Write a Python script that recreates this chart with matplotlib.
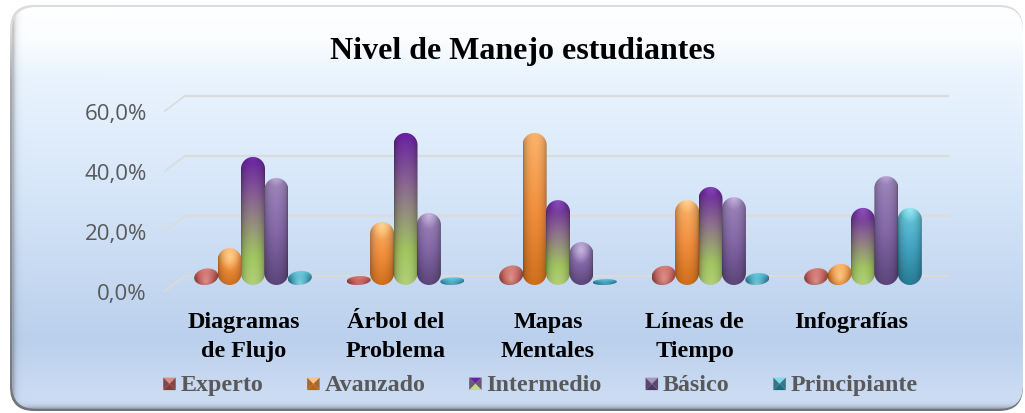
import numpy as np
import matplotlib
matplotlib.use('Agg')
import matplotlib.pyplot as plt
from matplotlib.patches import FancyBboxPatch, PathPatch, Polygon, Patch
from matplotlib.path import Path
from matplotlib.colors import to_rgb
from matplotlib.legend_handler import HandlerBase
from matplotlib.transforms import ScaledTranslation

title = 'Nivel de Manejo estudiantes'
categories = ['Diagramas\nde Flujo', 'Árbol del\nProblema', 'Mapas\nMentales', 'Líneas de\nTiempo', 'Infografías']
series_names = ['Experto', 'Avanzado', 'Intermedio', 'Básico', 'Principiante']
experto = [5.5, 3.0, 6.5, 6.4, 5.6]
avanzado = [12.3, 21.0, 50.7, 28.3, 7.0]
intermedio = [42.7, 50.7, 28.3, 32.7, 25.7]
basico = [35.7, 24.0, 14.3, 29.3, 36.3]
principiante = [4.7, 2.6, 2.0, 4.0, 25.7]
series_values = [experto, avanzado, intermedio, basico, principiante]
y_ticks = [0, 20, 40, 60]
y_labels = ['0,0%', '20,0%', '40,0%', '60,0%']

# colours bottom -> top for each series
gradients = [
    ['#8c3836', '#c65c58', '#dc8c86'],
    ['#c2620f', '#f2903e', '#ffc27e'],
    ['#c0d890', '#a2c660', '#8c6c90', '#6a22a2'],
    ['#4c3868', '#8468a8', '#a995c2'],
    ['#1c6c80', '#43a6c4', '#7cdce8'],
]
glow = ['#e8a8a0', '#ffe0a0', '#9a60c0', '#d8c8f0', '#a8f4f8']

W, H = 1025, 414
PX_X = 152.5     # pixels per category
PX_Y = 3.0       # pixels per percent
BAR_W = 24 / PX_X
STEP = 23.4 / PX_X
BASE = 6 / PX_Y  # bars sit this far behind the front wall
DEPTH = 15.3 / PX_Y

fig = plt.figure(figsize=(W / 100, H / 100), dpi=100, facecolor='white')

# background panel: grey frame, then the blue gradient with a soft inner shadow
bg = fig.add_axes([0, 0, 1, 1])
bg.axis('off')
ys = np.arange(H)
xs = np.arange(W)
frame_c = np.array([to_rgb(c) for c in ['#dcdcdc', '#dcdcdc', '#a9abae', '#70747a']])
frame_grad = np.stack([np.interp(ys, [0, 30, 80, 412], frame_c[:, i]) for i in range(3)], axis=1)[:, None, :]
frame_im = bg.imshow(frame_grad, extent=(0, W, H, 0), aspect='auto', zorder=1)
frame = FancyBboxPatch((10, 6), 1013, 406, boxstyle='round,pad=0,rounding_size=24', fc='none', ec='none')
bg.add_patch(frame)
frame_im.set_clip_path(frame)

stops_y = [0, 40, 75, 200, 340, 410]
stops_c = np.array([to_rgb(c) for c in ['#ffffff', '#fbfdff', '#eaf4fe', '#d5e5f8', '#bbd0ec', '#d0dff5']])
grad = np.stack([np.interp(ys, stops_y, stops_c[:, i]) for i in range(3)], axis=1)[:, None, :]
grad = np.repeat(grad, W, axis=1)
shade = (1 - 0.22 * np.exp(-np.clip(xs - 13, 0, None) / 2.5))[None, :] \
    * (1 - 0.30 * np.exp(-np.clip(409 - ys, 0, None) / 2.5))[:, None]
im = bg.imshow(grad * shade[:, :, None], extent=(0, W, H, 0), aspect='auto', zorder=2)
panel = FancyBboxPatch((12, 8), 1011, 402, boxstyle='round,pad=0,rounding_size=24', fc='none', ec='none')
bg.add_patch(panel)
im.set_clip_path(panel)
bg.set_xlim(0, W)
bg.set_ylim(H, 0)
bg.text(523, 52, title, family='Liberation Serif', weight='bold', fontsize=23,
        color='black', ha='center', va='center', zorder=3)

# chart axes: 0 % at pixel 292, 60 % at pixel 112
ax = fig.add_axes([165 / W, 1 - 292 / H, 783 / W, 180 / H])
ax.patch.set_alpha(0)
ax.set_xlim((165 - 253) / PX_X, (948 - 253) / PX_X)
ax.set_ylim(0, 60)
for side in ax.spines.values():
    side.set_visible(False)


def bar_path(x0, x1, h):
    # capsule; very short bars become slightly tilted ellipses
    xc = (x0 + x1) / 2
    rx = (x1 - x0) / 2
    ry = min(12 / PX_Y, h / 2)
    t = np.linspace(0, np.pi, 30)
    top = np.column_stack([xc + rx * np.cos(t), BASE + h - ry + ry * np.sin(t)])
    bottom = np.column_stack([xc - rx * np.cos(t), BASE + ry - ry * np.sin(t)])
    pts = np.vstack([top, bottom, top[:1]])
    if h < 24 / PX_Y:
        pts[:, 1] += (pts[:, 0] - xc) / rx * h * 0.07
    return Path(pts, closed=True)


def bar_image(k, h):
    # vertical colour ramp, round shading across, glow in the cap
    h_px = max(int(h * PX_Y * 2), 4)
    nx = 48
    u = np.linspace(-1, 1, nx)
    v = np.linspace(0, 1, h_px)
    cols = np.array([to_rgb(c) for c in gradients[k]])
    pos = np.linspace(0, 1, len(cols))
    if k == 2:
        pos = np.array([0, 0.3, 0.6, 0.85])
    ramp = np.stack([np.interp(v, pos, cols[:, i]) for i in range(3)], axis=1)
    img = ramp[:, None, :] * (0.62 + 0.38 * np.sqrt(np.clip(1 - u ** 2, 0, 1)))[None, :, None]
    # cap highlight
    yy = (v * h * PX_Y - (h * PX_Y - 12))[:, None]
    dist = np.sqrt((u[None, :] * 12) ** 2 + yy ** 2)
    a = np.clip(1 - dist / 10, 0, 1)[:, :, None] * 0.75
    img = img * (1 - a) + np.array(to_rgb(glow[k])) * a
    return img


def draw_bars():
    for k, vals in enumerate(series_values):
        for i, v in enumerate(vals):
            xc = i + (k - 2) * STEP
            x0, x1 = xc - BAR_W / 2, xc + BAR_W / 2
            patch = PathPatch(bar_path(x0, x1, v), fc='none', ec='none', zorder=3 + k)
            ax.add_patch(patch)
            pad = v * 0.2
            img = bar_image(k, v)
            bar = ax.imshow(img, extent=(x0, x1, BASE - pad, BASE + v + pad), origin='lower',
                            aspect='auto', zorder=3 + k, interpolation='bilinear')
            bar.set_clip_path(patch)


# back wall grid and its slanted side
for t in y_ticks:
    ax.plot([(165 + 20 - 253) / PX_X, ax.get_xlim()[1]], [t + DEPTH, t + DEPTH],
            color='#dbdbdb', lw=1.6, zorder=1, clip_on=False)
    ax.plot([ax.get_xlim()[0], (165 + 20 - 253) / PX_X], [t, t + DEPTH],
            color='#dbdbdb', lw=1.2, zorder=1, clip_on=False)
draw_bars()
ax.set_xlim((165 - 253) / PX_X, (948 - 253) / PX_X)
ax.set_ylim(0, 60)

ax.set_yticks(y_ticks)
ax.set_yticklabels(y_labels, family='Open Sans', fontsize=16, color='#595959')
ax.set_xticks(range(len(categories)))
ax.set_xticklabels(categories, family='Liberation Serif', weight='bold', fontsize=17.4,
                   color='black', linespacing=1.5)
ax.tick_params(axis='both', length=0)
ax.tick_params(axis='y', pad=13)
ax.tick_params(axis='x', pad=14.5)
label_shift = [-9, -10, -10, -16, -12]
for lab, dx in zip(ax.get_xticklabels(), label_shift):
    lab.set_transform(lab.get_transform() + ScaledTranslation(dx / 100, 0, fig.dpi_scale_trans))


class BevelHandler(HandlerBase):
    # small bevelled square like the legend keys of the original
    def create_artists(self, legend, handle, xd, yd, w, h, fs, trans):
        light, mid, dark = handle.colors
        s = min(w, h * 1.2)
        y0 = -yd - 1
        x0 = -xd
        c = (x0 + s / 2, y0 + s / 2)
        a, b, d, e = (x0, y0), (x0 + s, y0), (x0 + s, y0 + s), (x0, y0 + s)
        out = []
        for pts, col in [((e, d, c), light), ((a, e, c), mid), ((b, d, c), mid), ((a, b, c), dark)]:
            out.append(Polygon(pts, closed=True, fc=col, ec='none', transform=trans))
        return out


handles = []
for name, g in zip(series_names, gradients):
    p = Patch(label=name)
    mid = tuple(0.72 * np.array(to_rgb(g[-1])) * 0.5 + 0.72 * np.array(to_rgb(g[0])) * 0.5)
    p.colors = (g[-1], mid, g[0])
    handles.append(p)
leg = fig.legend(handles=handles, ncol=5, frameon=False, loc='center',
                 bbox_to_anchor=(540.5 / W, 1 - 385 / H), handler_map={Patch: BevelHandler()},
                 prop={'family': 'Liberation Serif', 'weight': 'bold', 'size': 17.3},
                 handlelength=0.52, handleheight=0.6, handletextpad=0.2, columnspacing=1.82,
                 borderpad=0, borderaxespad=0, labelcolor='#595959')

fig.savefig('out.png', dpi=100)
